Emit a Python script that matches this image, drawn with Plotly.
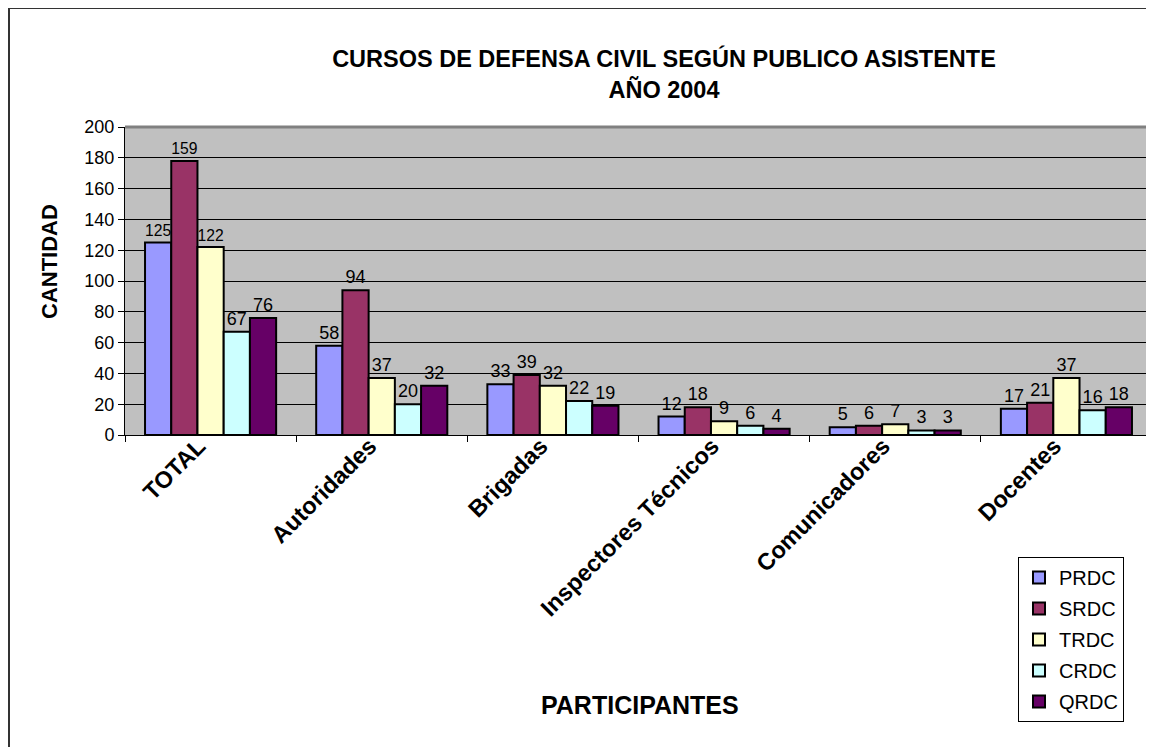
import plotly.graph_objects as go

categories = ["TOTAL", "Autoridades", "Brigadas", "Inspectores Técnicos", "Comunicadores", "Docentes"]
series_names = ["PRDC", "SRDC", "TRDC", "CRDC", "QRDC"]
prdc = [125, 58, 33, 12, 5, 17]
srdc = [178, 94, 39, 18, 6, 21]
srdc_labels = ["159", "94", "39", "18", "6", "21"]
trdc = [122, 37, 32, 9, 7, 37]
crdc = [67, 20, 22, 6, 3, 16]
qrdc = [76, 32, 19, 4, 3, 18]
y_ticks = [0, 20, 40, 60, 80, 100, 120, 140, 160, 180, 200]

colors = ["#9999FF", "#993366", "#FFFFCC", "#CCFFFF", "#660066"]
values = [prdc, srdc, trdc, crdc, qrdc]
texts = [[str(v) for v in prdc], srdc_labels, [str(v) for v in trdc],
         [str(v) for v in crdc], [str(v) for v in qrdc]]

FONT = "Liberation Sans, Arial, sans-serif"

fig = go.Figure()
for name, vals, txt, col in zip(series_names, values, texts, colors):
    fig.add_trace(go.Bar(
        x=categories, y=vals, name=name, text=txt,
        textposition="outside", cliponaxis=False,
        textfont=dict(family=FONT, size=18, color="black"),
        marker=dict(color=col, line=dict(color="black", width=2)),
        legendgroup=name,
    ))

# page body has an 8px margin: figure origin is at screen (8, 8)
OFF = 8
W, H = 1154, 747
L, T = 125 - OFF, 127 - OFF
R = W - (1152 - OFF)
B = H - (435 - OFF)
pw = W - L - R
ph = H - T - B

def px(x):  # screen x -> paper
    return (x - OFF - L) / pw

def py(y):  # screen y -> paper
    return (H - B - (y - OFF)) / ph

fig.update_layout(
    width=W, height=H,
    margin=dict(l=L, r=R, t=T, b=B, autoexpand=False),
    paper_bgcolor="white", plot_bgcolor="#C0C0C0",
    barmode="group", bargap=0.234, bargroupgap=0,
    font=dict(family=FONT, color="black"),
    title=dict(text="<b>CURSOS DE DEFENSA CIVIL SEGÚN PUBLICO ASISTENTE<br>AÑO 2004</b>",
               x=(664 - OFF) / W, xanchor="center", y=1 - (67 - OFF) / H, yanchor="middle",
               font=dict(family=FONT, size=23.5, color="black")),
    legend=dict(x=px(1018), y=py(557), xanchor="left", yanchor="top",
                bgcolor="white", bordercolor="black", borderwidth=1,
                font=dict(family=FONT, size=20, color="black"),
                traceorder="grouped", tracegroupgap=2),
    xaxis=dict(showline=True, linecolor="black", linewidth=1,
               ticks="outside", ticklen=6, tickcolor="black", tickson="boundaries",
               tickangle=-45, tickfont=dict(family=FONT, size=23.5, color="black"),
               ticklabelshift=-12, ticklabelstandoff=-13,
               tickprefix="<b>", ticksuffix="</b>", automargin=False),
    yaxis=dict(range=[0, 200], tickvals=y_ticks, showline=True, linecolor="black",
               linewidth=1, ticks="outside", ticklen=6, tickcolor="black",
               showgrid=True, gridcolor="black", gridwidth=1, zeroline=False,
               tickfont=dict(family=FONT, size=18, color="black"), automargin=False),
    annotations=[
        dict(text="<b>PARTICIPANTES</b>", xref="paper", yref="paper",
             x=px(640), y=py(705), xanchor="center", yanchor="middle", showarrow=False,
             font=dict(family=FONT, size=25, color="black")),
        dict(text="<b>CANTIDAD</b>", xref="paper", yref="paper", textangle=-90,
             x=px(49), y=py(262), xanchor="center", yanchor="middle", showarrow=False,
             font=dict(family=FONT, size=22, color="black")),
    ],
    shapes=[
        dict(type="rect", xref="paper", yref="paper", x0=px(9), y0=py(800), x1=px(1250), y1=py(8),
             line=dict(color="#333333", width=2), fillcolor="rgba(0,0,0,0)", layer="above"),
        dict(type="line", xref="paper", yref="paper", x0=0, x1=1, y0=1, y1=1,
             line=dict(color="#808080", width=3), layer="above"),
        dict(type="line", xref="paper", yref="paper", x0=1, x1=1, y0=0, y1=1,
             line=dict(color="#808080", width=3), layer="above"),
    ],
)

fig.write_html("out.html")
